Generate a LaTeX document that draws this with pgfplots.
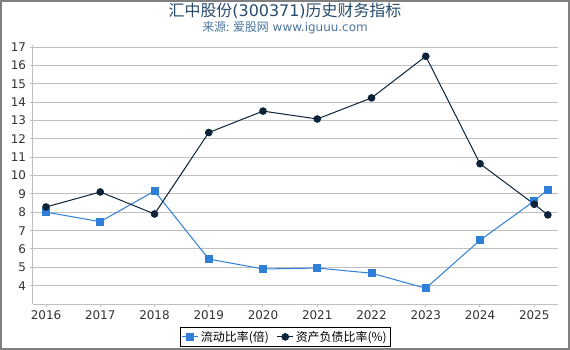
\documentclass[border=0pt]{standalone}
\usepackage{fontspec}
\setmainfont{DejaVu Sans}
\newfontfamily\cjk{Noto Sans CJK SC}
\usepackage{pgfplots}
\pgfplotsset{compat=1.18}
\definecolor{cblue}{HTML}{2F7ED8}
\definecolor{cdark}{HTML}{0D233A}
\definecolor{ctitle}{HTML}{274B6D}
\definecolor{csub}{HTML}{4D759E}
\definecolor{cgrid}{HTML}{C0C0C0}
\definecolor{cborder}{HTML}{808080}
\definecolor{ctick}{HTML}{333333}
\begin{document}
\begin{tikzpicture}
\path[use as bounding box] (0bp,0bp) rectangle (570bp,350bp);
\fill[white] (0bp,0bp) rectangle (570bp,350bp);
\draw[cborder, line width=2bp] (1bp,1bp) rectangle (569bp,349bp);
\node[ctitle, font=\fontsize{16}{16}\selectfont] at (285bp,339bp) {{\cjk 汇中股份}(300371){\cjk 历史财务指标}};
\node[csub, font=\fontsize{12}{12}\selectfont] at (285bp,322bp) {{\cjk 来源: 爱股网} www.iguuu.com};
\begin{axis}[
  at={(32.5bp,46bp)}, anchor=south west, scale only axis,
  width=525.5bp, height=259bp,
  xmin=2015.751, xmax=2025.437, ymin=3, ymax=17.125,
  xtick={2016,2017,...,2025}, ytick={4,5,...,17},
  /pgf/number format/1000 sep={},
  /pgf/number format/assume math mode=true,
  ymajorgrids, grid style={cgrid, line width=1bp},
  axis x line*=bottom, axis y line*=left,
  axis line style={cgrid, line width=1bp, -},
  tick align=outside, major tick length=3bp,
  tick style={cgrid, line width=1bp},
  tick label style={ctick, font=\fontsize{12}{12}\selectfont},
  legend style={at={(0.481,-0.127)}, anchor=center, draw=black, line width=0.8bp,
    font=\fontsize{12}{12}\selectfont\cjk, legend columns=2,
    inner sep=2bp,
    /tikz/every even column/.append style={column sep=6bp}},
  legend image code/.code={\draw[mark repeat=2,mark phase=2] plot coordinates {(0bp,0bp) (8bp,0bp) (16bp,0bp)};},
]
\addplot[cblue, line width=1bp, mark=square*, mark size=3.5bp, mark options={solid}] coordinates {
(2016,8.01) (2017,7.49) (2018,9.16) (2019,5.45) (2020,4.91) (2021,4.96) (2022,4.68)
(2023,3.86) (2024,6.48) (2025,8.62) (2025.25,9.24)};
\addlegendentry{流动比率(倍)}
\addplot[cdark, line width=1bp, mark=*, mark size=3.3bp, mark options={solid}] coordinates {
(2016,8.29) (2017,9.11) (2018,7.91) (2019,12.35) (2020,13.52) (2021,13.09) (2022,14.24)
(2023,16.51) (2024,10.65) (2025,8.44) (2025.25,7.86)};
\addlegendentry{资产负债比率(\%)}
\end{axis}
\end{tikzpicture}
\end{document}
